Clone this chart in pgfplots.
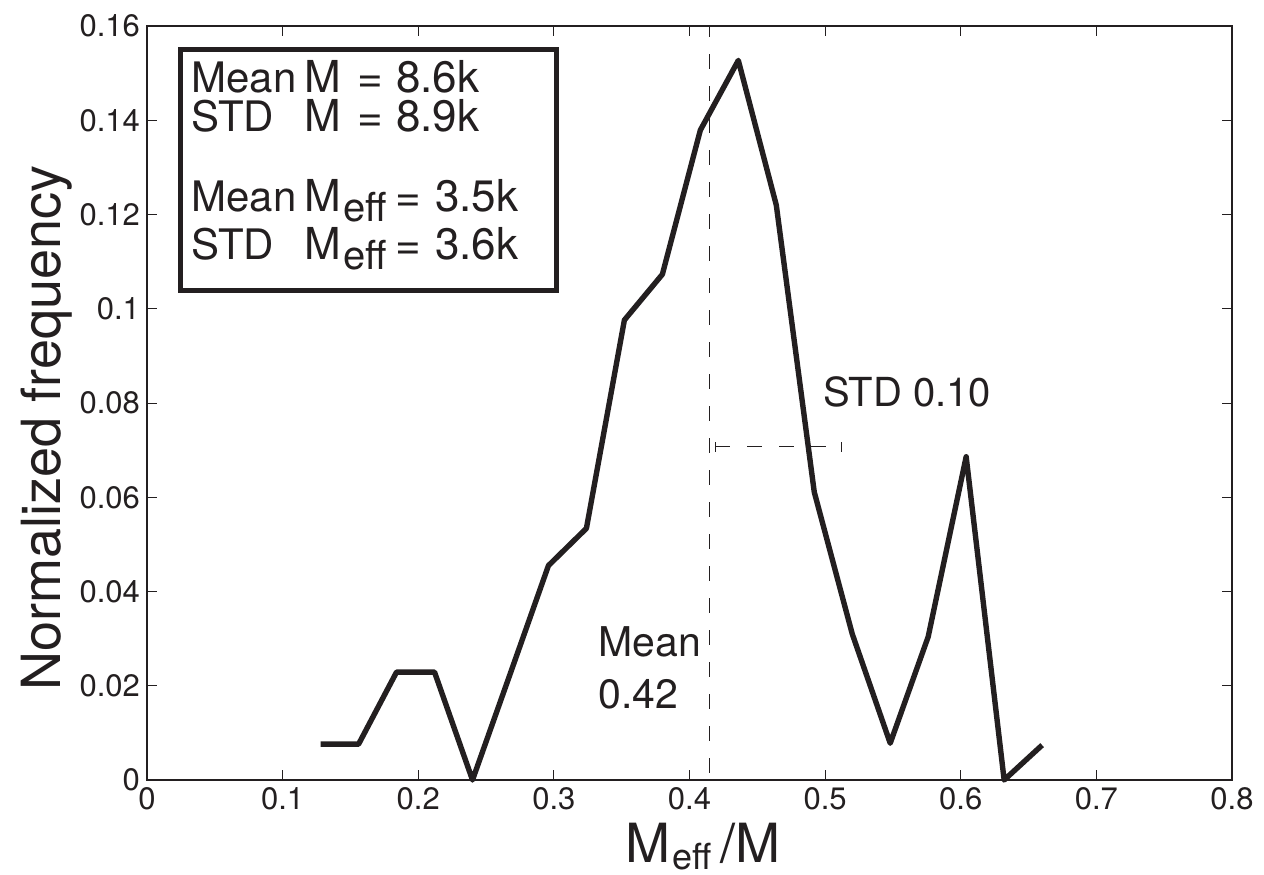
\documentclass[border=0pt]{standalone}
\usepackage{pgfplots}
\pgfplotsset{compat=1.18}
\usepackage{fontspec}
\setmainfont{TeX Gyre Heros}
\definecolor{ink}{RGB}{35,31,32}
% two lines stacked at a fixed baseline distance, baseline = first line
\newcommand\stk[3]{\vtop{\baselineskip=#1\lineskiplimit=-20pt\hbox{#2}\hbox{#3}}}
\newcommand\eff{\raisebox{-5pt}{\fontsize{20}{20}\selectfont eff}}

\begin{document}
\begin{tikzpicture}
\begin{axis}[
    scale only axis,
    width=542.5pt,
    height=377pt,
    xmin=0, xmax=0.8,
    ymin=0, ymax=0.16,
    xtick={0,0.1,...,0.8},
    xticklabels={0,0.1,0.2,0.3,0.4,0.5,0.6,0.7,0.8},
    ytick={0,0.02,...,0.16},
    yticklabels={0,0.02,0.04,0.06,0.08,0.1,0.12,0.14,0.16},
    tick align=inside,
    major tick length=5pt,
    tick style={ink, line width=0.5pt},
    axis line style={ink, line width=0.7pt},
    /pgf/number format/assume math mode=true,
    ticklabel style={font=\fontsize{15.5}{15.5}\selectfont, text=ink},
    clip=false,
]
% normalized frequency of M_eff/M
\addplot[ink, line width=2.7pt, line join=round, line cap=butt] coordinates {
  (0.128,0.0076) (0.156,0.0076) (0.184,0.0229) (0.212,0.0229)
  (0.240,0) (0.268,0.0227) (0.296,0.0455) (0.324,0.0534)
  (0.352,0.0976) (0.380,0.1073) (0.408,0.1379) (0.436,0.1527)
  (0.464,0.1220) (0.492,0.0611) (0.520,0.0310) (0.548,0.0078)
  (0.576,0.0304) (0.604,0.0686) (0.632,0) (0.660,0.0074)
};
% mean line
\addplot[ink, line width=0.6pt, dash pattern=on 7.5pt off 8.5pt] coordinates {(0.415,0.0015) (0.415,0.16)};
% std bar
\addplot[ink, line width=0.6pt, dash pattern=on 7.5pt off 8.5pt] coordinates {(0.419,0.0707) (0.512,0.0707)};
\addplot[ink, line width=0.6pt] coordinates {(0.419,0.0697) (0.419,0.0717)};
\addplot[ink, line width=0.6pt] coordinates {(0.512,0.0697) (0.512,0.0717)};
\end{axis}

% annotations, picture coords: 1px = 0.5pt, origin at axis south west
\begin{scope}[every node/.style={inner sep=0pt, text=ink}]
\node[anchor=base west, font=\fontsize{20}{20}\selectfont] at (338pt,186.5pt) {STD 0.10};
\node[anchor=base west, font=\fontsize{20.5}{20.5}\selectfont] at (225.6pt,61.6pt) {\stk{25.6pt}{Mean}{0.42}};

% box
\draw[ink, line width=2.5pt] (17pt,244.6pt) rectangle (204.8pt,365pt);
\begin{scope}[font=\fontsize{22}{22}\selectfont]
\node[anchor=base west, font=\fontsize{21}{21}\selectfont] at (22pt,343.6pt) {\stk{19.5pt}{Mean}{STD}};
\node[anchor=base west] at (78.5pt,343.6pt) {\stk{19.5pt}{M}{M}};
\node[anchor=base west] at (105pt,343.6pt) {\stk{19.5pt}{=\hspace{6.5pt}8.6k}{=\hspace{6.5pt}8.9k}};
\node[anchor=base west, font=\fontsize{21}{21}\selectfont] at (22pt,284.1pt) {\stk{24.1pt}{Mean}{STD}};
\node[anchor=base west] at (78.5pt,284.1pt) {\stk{24.1pt}{M\hspace{1pt}\eff}{M\hspace{1pt}\eff}};
\node[anchor=base west] at (124pt,284.1pt) {\stk{24.1pt}{=\hspace{7pt}3.5k}{=\hspace{7pt}3.6k}};
\end{scope}

% axis labels
\node[anchor=base west, font=\fontsize{27}{27}\selectfont] at (239pt,-41pt)
  {M\hspace{1pt}\raisebox{-3.5pt}{\fontsize{18}{18}\selectfont eff}\hspace{4.5pt}/M};
\node[anchor=base, rotate=90, font=\fontsize{27}{27}\selectfont] at (-43pt,176pt) {Normalized frequency};
\end{scope}

\pgfresetboundingbox
\path (-73.5pt,-47pt) rectangle (558.5pt,390pt);
\end{tikzpicture}
\end{document}
